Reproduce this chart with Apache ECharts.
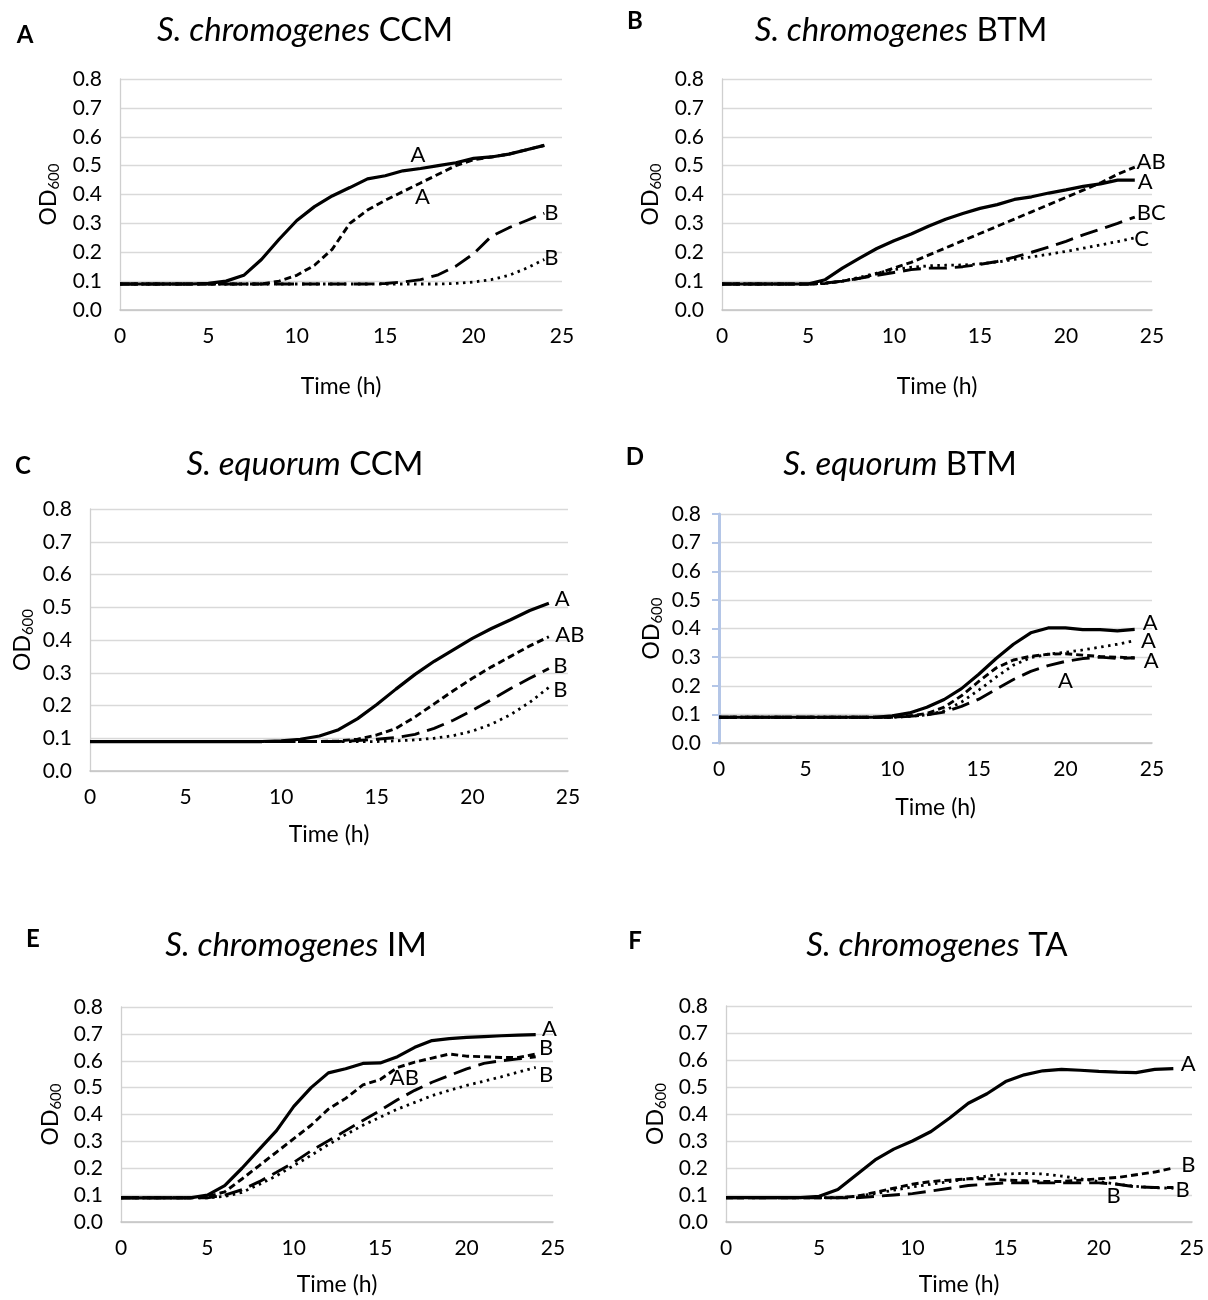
<!DOCTYPE html>
<html>
<head>
<meta charset="utf-8">
<script src="https://cdn.jsdelivr.net/npm/echarts@6/dist/echarts.min.js"></script>
<style>
  body{margin:0;background:#fff;}
  #chart{width:1208px;height:1300px;}
</style>
</head>
<body>
<div id="chart"></div>
<script>
// time points (h)
let hours=[0,1,2,3,4,5,6,7,8,9,10,11,12,13,14,15,16,17,18,19,20,21,22,23,24];
let xTicks=[0,5,10,15,20,25];

// A  S. chromogenes CCM
let aSolid=[0.09,0.09,0.09,0.09,0.09,0.092,0.10,0.12,0.175,0.245,0.31,0.358,0.395,0.424,0.454,0.465,0.482,0.49,0.50,0.51,0.525,0.53,0.54,0.555,0.57];
let aShort=[0.09,0.09,0.09,0.09,0.09,0.09,0.09,0.09,0.09,0.10,0.12,0.155,0.21,0.30,0.346,0.38,0.41,0.44,0.47,0.50,0.52,0.53,0.54,0.555,0.57];
let aLong=[0.09,0.09,0.09,0.09,0.09,0.09,0.09,0.09,0.09,0.09,0.09,0.09,0.09,0.09,0.09,0.092,0.097,0.105,0.122,0.152,0.195,0.255,0.285,0.31,0.335];
let aDot=[0.09,0.09,0.09,0.09,0.09,0.09,0.09,0.09,0.09,0.09,0.09,0.09,0.09,0.09,0.09,0.09,0.09,0.09,0.09,0.092,0.097,0.105,0.12,0.145,0.175];
let aNotes=[[16.85,0.537,'A'],[17.1,0.393,'A'],[24.4,0.337,'B'],[24.4,0.179,'B']];

// B  S. chromogenes BTM
let bSolid=[0.09,0.09,0.09,0.09,0.09,0.09,0.105,0.145,0.18,0.213,0.24,0.263,0.29,0.314,0.334,0.352,0.365,0.383,0.392,0.405,0.416,0.428,0.437,0.45,0.45];
let bShort=[0.09,0.09,0.09,0.09,0.09,0.09,0.092,0.10,0.11,0.125,0.145,0.165,0.19,0.215,0.24,0.265,0.29,0.315,0.34,0.365,0.39,0.415,0.44,0.47,0.495];
let bLong=[0.09,0.09,0.09,0.09,0.09,0.09,0.093,0.10,0.11,0.12,0.13,0.14,0.145,0.145,0.15,0.158,0.168,0.183,0.20,0.218,0.238,0.26,0.28,0.30,0.322];
let bDot=[0.09,0.09,0.09,0.09,0.09,0.09,0.093,0.10,0.113,0.128,0.14,0.148,0.153,0.155,0.156,0.16,0.166,0.175,0.184,0.193,0.203,0.214,0.225,0.237,0.25];
let bNotes=[[24.95,0.514,'AB'],[24.6,0.445,'A'],[24.95,0.335,'BC'],[24.4,0.245,'C']];

// C  S. equorum CCM
let cSolid=[0.09,0.09,0.09,0.09,0.09,0.09,0.09,0.09,0.09,0.09,0.092,0.097,0.107,0.126,0.16,0.203,0.25,0.295,0.335,0.37,0.405,0.435,0.462,0.49,0.512];
let cShort=[0.09,0.09,0.09,0.09,0.09,0.09,0.09,0.09,0.09,0.09,0.09,0.09,0.09,0.092,0.097,0.11,0.13,0.165,0.205,0.245,0.283,0.318,0.35,0.382,0.41];
let cLong=[0.09,0.09,0.09,0.09,0.09,0.09,0.09,0.09,0.09,0.09,0.09,0.09,0.09,0.09,0.093,0.097,0.102,0.112,0.13,0.155,0.185,0.218,0.252,0.283,0.313];
let cDot=[0.09,0.09,0.09,0.09,0.09,0.09,0.09,0.09,0.09,0.09,0.09,0.09,0.09,0.09,0.09,0.09,0.092,0.095,0.10,0.108,0.122,0.143,0.172,0.21,0.255];
let cNotes=[[24.7,0.525,'A'],[25.1,0.415,'AB'],[24.6,0.32,'B'],[24.6,0.248,'B']];

// D  S. equorum BTM
let dSolid=[0.09,0.09,0.09,0.09,0.09,0.09,0.09,0.09,0.09,0.09,0.095,0.105,0.125,0.152,0.19,0.24,0.295,0.345,0.385,0.402,0.402,0.396,0.396,0.392,0.397];
let dShort=[0.09,0.09,0.09,0.09,0.09,0.09,0.09,0.09,0.09,0.09,0.09,0.095,0.103,0.125,0.165,0.215,0.262,0.29,0.303,0.31,0.312,0.307,0.302,0.30,0.297];
let dLong=[0.09,0.09,0.09,0.09,0.09,0.09,0.09,0.09,0.09,0.09,0.09,0.093,0.098,0.108,0.128,0.153,0.188,0.222,0.25,0.27,0.285,0.295,0.30,0.295,0.298];
let dDot=[0.09,0.09,0.09,0.09,0.09,0.09,0.09,0.09,0.09,0.09,0.09,0.093,0.098,0.112,0.143,0.185,0.23,0.272,0.298,0.31,0.317,0.325,0.335,0.345,0.358];
let dNotes=[[24.9,0.42,'A'],[24.8,0.357,'A'],[24.95,0.288,'A'],[20.0,0.216,'A']];

// E  S. chromogenes IM
let eSolid=[0.09,0.09,0.09,0.09,0.09,0.10,0.135,0.20,0.27,0.34,0.43,0.50,0.555,0.57,0.59,0.592,0.615,0.65,0.675,0.682,0.687,0.69,0.693,0.695,0.697];
let eShort=[0.09,0.09,0.09,0.09,0.09,0.095,0.112,0.16,0.21,0.26,0.31,0.36,0.42,0.46,0.51,0.53,0.575,0.595,0.61,0.625,0.617,0.615,0.612,0.612,0.625];
let eLong=[0.09,0.09,0.09,0.09,0.09,0.09,0.10,0.12,0.15,0.185,0.222,0.265,0.302,0.34,0.378,0.415,0.455,0.49,0.52,0.545,0.57,0.59,0.60,0.607,0.615];
let eDot=[0.09,0.09,0.09,0.09,0.09,0.09,0.095,0.11,0.14,0.172,0.21,0.248,0.288,0.325,0.36,0.39,0.42,0.445,0.47,0.49,0.508,0.524,0.54,0.558,0.575];
let eNotes=[[24.8,0.719,'A'],[24.6,0.649,'B'],[16.4,0.538,'AB'],[24.6,0.548,'B']];

// F  S. chromogenes TA
let fSolid=[0.09,0.09,0.09,0.09,0.09,0.095,0.12,0.175,0.23,0.27,0.30,0.335,0.385,0.44,0.475,0.52,0.545,0.56,0.565,0.562,0.558,0.555,0.553,0.565,0.568];
let fShort=[0.09,0.09,0.09,0.09,0.09,0.09,0.09,0.095,0.11,0.125,0.14,0.15,0.155,0.16,0.16,0.155,0.153,0.15,0.15,0.155,0.16,0.165,0.175,0.185,0.20];
let fLong=[0.09,0.09,0.09,0.09,0.09,0.09,0.09,0.09,0.095,0.10,0.105,0.115,0.125,0.135,0.14,0.145,0.145,0.145,0.145,0.145,0.145,0.14,0.13,0.128,0.128];
let fDot=[0.09,0.09,0.09,0.09,0.09,0.09,0.09,0.095,0.105,0.118,0.13,0.14,0.15,0.16,0.17,0.178,0.18,0.178,0.17,0.16,0.15,0.14,0.132,0.127,0.125];
let fNotes=[[24.8,0.584,'A'],[24.8,0.21,'B'],[20.8,0.095,'B'],[24.5,0.118,'B']];

let font="Lato";
let ink="#000";

// panel layout: grid box, title, letter
let panels=[
	{lines:[aSolid,aShort,aLong,aDot],notes:aNotes,grid:{left:120,top:79,width:442,height:231},
	 sp:"S. chromogenes",med:"CCM",tx:300,ty:9,letter:"A",lx:20,ly:18,yGap:58,xGap:65},
	{lines:[bSolid,bShort,bLong,bDot],notes:bNotes,grid:{left:722,top:79,width:430,height:231},
	 sp:"S. chromogenes",med:"BTM",tx:896,ty:9,letter:"B",lx:630,ly:4,yGap:58,xGap:65},
	{lines:[cSolid,cShort,cLong,cDot],notes:cNotes,grid:{left:90,top:509,width:478,height:262},
	 sp:"S. equorum",med:"CCM",tx:300,ty:443,letter:"C",lx:18,ly:449,yGap:54,xGap:52},
	{lines:[dSolid,dShort,dLong,dDot],notes:dNotes,grid:{left:719,top:514,width:433,height:229},
	 sp:"S. equorum",med:"BTM",tx:895,ty:443,letter:"D",lx:630,ly:440,yGap:54,xGap:53,blueAxis:true},
	{lines:[eSolid,eShort,eLong,eDot],notes:eNotes,grid:{left:121,top:1007,width:432,height:215},
	 sp:"S. chromogenes",med:"IM",tx:291,ty:924,letter:"E",lx:28,ly:922,yGap:57,xGap:51},
	{lines:[fSolid,fShort,fLong,fDot],notes:fNotes,grid:{left:726,top:1006,width:466,height:216},
	 sp:"S. chromogenes",med:"TA",tx:932,ty:924,letter:"F",lx:630,ly:924,yGap:57,xGap:51}
];

// solid, short dash, long dash, dotted
let lineLooks=[
	{type:"solid",width:3.2},
	{type:[7,4],width:2.9},
	{type:[18,8],width:2.9},
	{type:[2.5,4.5],width:2.8}
];

let option={animation:false,backgroundColor:"#fff",title:[],grid:[],xAxis:[],yAxis:[],series:[]};

panels.forEach(function(p,i){
	option.title.push({
		text:"{i|"+p.sp+"} "+p.med,left:p.tx,top:p.ty,textAlign:"center",
		textStyle:{fontFamily:font,fontSize:33,fontWeight:"normal",color:"#000",
			rich:{i:{fontFamily:font,fontSize:33,fontStyle:"italic",color:"#000"}}}
	});
	option.title.push({
		text:p.letter,left:p.lx,top:p.ly,textAlign:"center",
		textStyle:{fontFamily:font,fontSize:24,fontWeight:"bold",color:"#000"}
	});
	option.grid.push(Object.assign({containLabel:false},p.grid));
	option.xAxis.push({
		type:"value",gridIndex:i,min:0,max:25,interval:5,
		name:"Time (h)",nameLocation:"middle",nameGap:p.xGap,
		nameTextStyle:{fontFamily:font,fontSize:23,color:ink},
		axisLine:{show:true,lineStyle:{color:"#c4c4c4",width:1.5}},
		axisTick:{show:false},splitLine:{show:false},
		axisLabel:{fontFamily:font,fontSize:21,color:ink,margin:16,
			customValues:xTicks,formatter:function(v){return String(v);}}
	});
	option.yAxis.push({
		type:"value",gridIndex:i,min:0,max:0.8,interval:0.1,
		name:"{a|OD}{b|600}",nameLocation:"middle",nameGap:p.yGap,nameRotate:90,
		nameTextStyle:{rich:{
			a:{fontFamily:font,fontSize:23,color:ink,lineHeight:26,verticalAlign:"middle"},
			b:{fontFamily:font,fontSize:15,color:ink,lineHeight:10,verticalAlign:"bottom"}
		}},
		axisLine:p.blueAxis
			?{show:true,lineStyle:{color:"#b4c6e7",width:3}}
			:{show:true,lineStyle:{color:"#cfcfcf",width:1.3}},
		axisTick:p.blueAxis
			?{show:true,length:7,lineStyle:{color:"#b4c6e7",width:2}}
			:{show:false},
		splitLine:{show:true,lineStyle:{color:"#d9d9d9",width:1.3}},
		axisLabel:{fontFamily:font,fontSize:21,color:ink,margin:18,
			formatter:function(v){return v.toFixed(1);}}
	});
	p.lines.forEach(function(vals,k){
		option.series.push({
			type:"line",xAxisIndex:i,yAxisIndex:i,showSymbol:false,symbol:"none",
			smooth:false,silent:true,
			lineStyle:{color:"#000",width:lineLooks[k].width,type:lineLooks[k].type,cap:"butt"},
			data:hours.map(function(h,j){return [h,vals[j]];}),
			z:2
		});
	});
	// letter annotations placed in data units
	option.series.push({
		type:"scatter",xAxisIndex:i,yAxisIndex:i,symbolSize:0,clip:false,silent:true,
		itemStyle:{color:"#000",opacity:1},
		label:{show:true,position:"inside",fontFamily:font,fontSize:22,color:"#000",
			textBorderWidth:0,opacity:1,
			formatter:function(prm){return prm.value[2];}},
		data:p.notes,z:5
	});
});

let chart=echarts.init(document.getElementById("chart"),null,{renderer:"canvas"});
chart.setOption(option);
</script>
</body>
</html>
